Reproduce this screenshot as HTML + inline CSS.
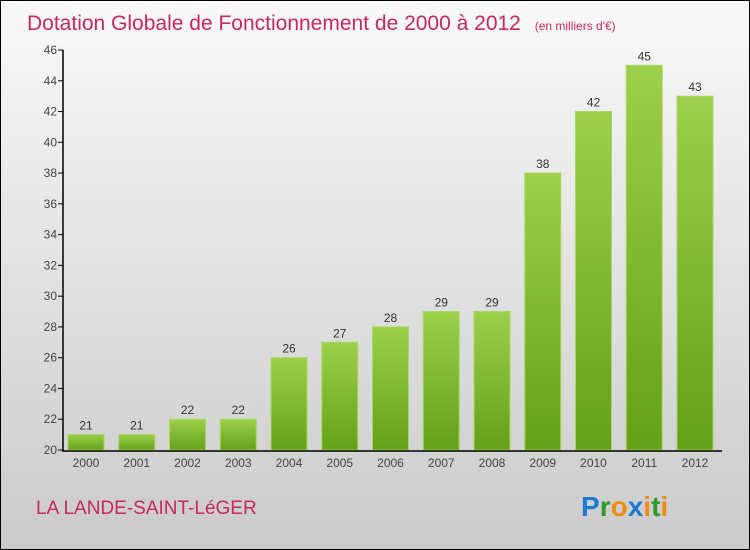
<!DOCTYPE html>
<html><head><meta charset="utf-8"><style>
body{margin:0;}
#c{width:750px;height:550px;position:relative;box-sizing:border-box;border:1px solid #000;background:linear-gradient(#f9f9f9,#cbcbcb);font-family:"Liberation Sans",sans-serif;overflow:hidden}
</style></head><body>
<div id="c">
<svg width="748" height="548" style="position:absolute;left:0;top:0" id="svg">
<defs><linearGradient id="g" x1="0" y1="0" x2="0" y2="1"><stop offset="0" stop-color="#9dd04c"/><stop offset="1" stop-color="#64a019"/></linearGradient></defs>
<text x="26" y="29" font-size="21" fill="#c8285a">Dotation Globale de Fonctionnement de 2000 à 2012 <tspan font-size="12" dx="8">(en milliers d'€)</tspan></text>
<text x="35" y="513" font-size="19" fill="#c8285a">LA LANDE-SAINT-LéGER</text>
<text x="580" y="515" font-size="28" font-weight="bold"><tspan fill="#1a7bd0">P</tspan><tspan fill="#2a9a2a">r</tspan><tspan fill="#f08a10">o</tspan><tspan fill="#1a7bd0">x</tspan><tspan fill="#f08a10">i</tspan><tspan fill="#2a9a2a">t</tspan><tspan fill="#f08a10">i</tspan></text>
<g id="plot"></g>
</svg>
</div>
<script>
const years=["2000","2001","2002","2003","2004","2005","2006","2007","2008","2009","2010","2011","2012"];
const values=[21,21,22,22,26,27,28,29,29,38,42,45,43];
const yTicks=[20,22,24,26,28,30,32,34,36,38,40,42,44,46];
const NS="http://www.w3.org/2000/svg";
const g=document.getElementById('plot');
const y=v=>449-(v-20)*(400/26);
const x=i=>85+i*50.75;
function mk(t,a){const e=document.createElementNS(NS,t);for(const k in a)e.setAttribute(k,a[k]);g.appendChild(e);return e;}
yTicks.forEach(v=>{
 const l=mk('line',{x1:57,x2:62,y1:y(v),y2:y(v),stroke:'#000'});
 
 
 const t=mk('text',{x:56,y:y(v)+4,'font-size':12,'text-anchor':'end',fill:'#444'});
 t.textContent=v;
 
 
});
values.forEach((v,i)=>{
 const r=mk('rect',{x:x(i)-18,y:y(v),width:36,height:y(20)-y(v),fill:'url(#g)',stroke:'#a8d860','stroke-width':1});
 
 
 const t=mk('text',{x:x(i),y:y(v)-5,'font-size':12,'text-anchor':'middle',fill:'#333'});
 t.textContent=v;
 
 
 const xl=mk('text',{x:x(i),y:466,'font-size':12,'text-anchor':'middle',fill:'#444'});
 xl.textContent=years[i];
 
 
});
const ya=mk('line',{x1:62,x2:62,y1:49,y2:450,stroke:'#000','stroke-width':1.5});


const xa=mk('line',{x1:61,x2:721,y1:450,y2:450,stroke:'#000','stroke-width':1.5});


</script>
</body></html>
